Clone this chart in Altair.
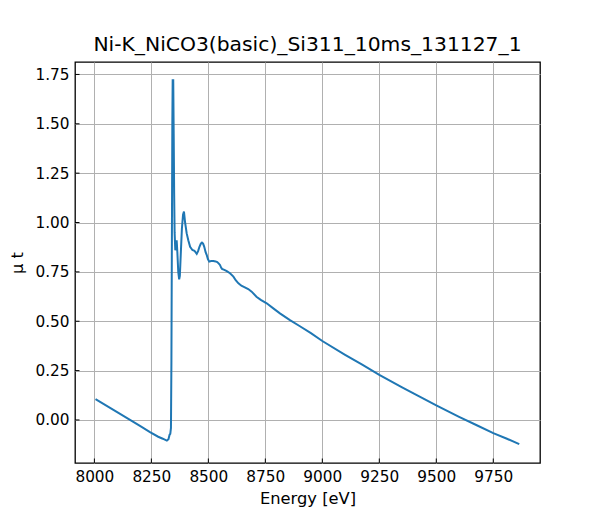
import altair as alt
import pandas as pd

energy = [8005, 8100, 8200, 8244, 8280, 8300, 8318, 8325, 8330, 8333, 8336, 8338,
          8340, 8342, 8343.5, 8346, 8348, 8350, 8352, 8355, 8358, 8361, 8364, 8368,
          8372, 8375, 8379, 8384, 8389, 8393, 8398, 8405, 8412, 8420, 8430, 8439,
          8449, 8455, 8461, 8467, 8472, 8477, 8482, 8488, 8493, 8498, 8504, 8512,
          8522, 8532, 8539, 8546, 8551, 8556, 8560, 8570, 8581, 8595, 8610, 8620,
          8632, 8645, 8660, 8675, 8690, 8711, 8730, 8756, 8785, 8814, 8858, 8900,
          8950, 9000, 9100, 9175, 9250, 9350, 9425, 9500, 9600, 9680, 9750, 9810, 9864]
mu_t = [0.105, 0.040, -0.030, -0.062, -0.085, -0.095, -0.105, -0.098, -0.075, -0.070,
        -0.040, 0.30, 0.90, 1.50, 1.72, 1.72, 1.45, 1.15, 0.95, 0.86, 0.87, 0.91, 0.85,
        0.75, 0.712, 0.73, 0.84, 0.97, 1.04, 1.055, 1.00, 0.945, 0.91, 0.877, 0.861,
        0.857, 0.841, 0.855, 0.877, 0.893, 0.898, 0.893, 0.877, 0.850, 0.835, 0.815,
        0.802, 0.805, 0.805, 0.803, 0.800, 0.792, 0.785, 0.772, 0.765, 0.760, 0.754,
        0.743, 0.726, 0.708, 0.692, 0.680, 0.672, 0.663, 0.650, 0.624, 0.608, 0.591,
        0.565, 0.540, 0.506, 0.476, 0.440, 0.400, 0.330, 0.280, 0.228, 0.165, 0.120,
        0.074, 0.016, -0.028, -0.067, -0.095, -0.122]

x_ticks = [8000, 8250, 8500, 8750, 9000, 9250, 9500, 9750]
y_ticks = [0.00, 0.25, 0.50, 0.75, 1.00, 1.25, 1.50, 1.75]
x_domain = [7915, 9955]
y_domain = [-0.218, 1.813]

W, H = 465, 401
FONT = "DejaVu Sans"

df = pd.DataFrame({"E": energy, "mu": mu_t})
xt = pd.DataFrame({"v": x_ticks})
yt = pd.DataFrame({"v": y_ticks})

xscale = alt.Scale(domain=x_domain, nice=False, zero=False)
yscale = alt.Scale(domain=y_domain, nice=False, zero=False)

axis_common = dict(grid=True, gridColor="#b0b0b0", gridWidth=1, domain=False,
                   ticks=False, labelFont=FONT, labelFontSize=15.3, labelColor="black",
                   titleFont=FONT, titleFontSize=16.3, titleColor="black",
                   titleFontWeight="normal")

line = alt.Chart(df).mark_line(color="#1f77b4", strokeWidth=2, clip=True).encode(
    x=alt.X("E:Q", scale=xscale,
            axis=alt.Axis(values=x_ticks, format="d", title="Energy [eV]",
                          labelPadding=6, titlePadding=6, **axis_common)),
    y=alt.Y("mu:Q", scale=yscale,
            axis=alt.Axis(values=y_ticks, format=".2f", title="μ t",
                          labelPadding=6, titlePadding=9, **axis_common)),
)

xtick_marks = alt.Chart(xt).mark_rule(color="black", strokeWidth=1).encode(
    x=alt.X("v:Q", scale=xscale),
    y=alt.value(H), y2=alt.value(H - 4.5),
)
ytick_marks = alt.Chart(yt).mark_rule(color="black", strokeWidth=1).encode(
    y=alt.Y("v:Q", scale=yscale),
    x=alt.value(0), x2=alt.value(4.5),
)

chart = alt.layer(line, xtick_marks, ytick_marks).properties(
    width=W, height=H,
    title=alt.TitleParams("Ni-K_NiCO3(basic)_Si311_10ms_131127_1", font=FONT,
                          fontSize=20.3, fontWeight="normal", color="black",
                          anchor="middle", offset=7),
    autosize=alt.AutoSizeParams(type="none"),
    padding={"left": 67, "top": 54, "right": 40, "bottom": 46},
).configure(
    background="white",
    view=alt.ViewConfig(stroke="black", strokeWidth=1.3),
)

chart.save("out.html", embed_options={"renderer": "svg", "actions": False})
